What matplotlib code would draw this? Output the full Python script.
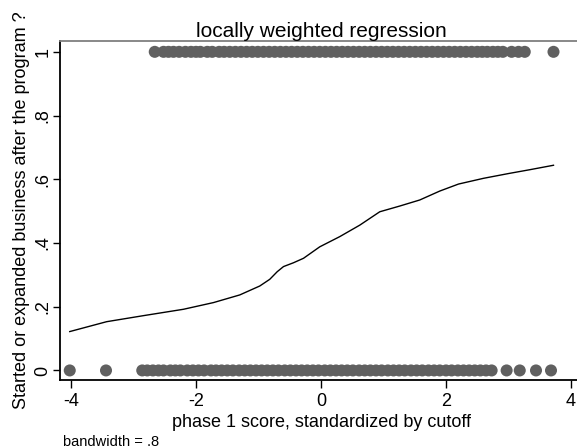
import matplotlib
matplotlib.use('Agg')
import matplotlib.pyplot as plt

plt.rcParams['font.family'] = ['Liberation Sans', 'DejaVu Sans']

# observed outcomes (0 = no, 1 = yes) by standardized score
x_zero = [-4.02, -3.44, -2.86, -2.78, -2.69, -2.60, -2.52, -2.41, -2.33, -2.25,
          -2.14, -2.05, -1.96, -1.87, -1.76, -1.68, -1.59, -1.50, -1.41, -1.31,
          -1.22, -1.13, -1.04, -0.95, -0.86, -0.77, -0.68, -0.58, -0.49, -0.40,
          -0.31, -0.22, -0.13, -0.04, 0.06, 0.15, 0.24, 0.33, 0.42, 0.51,
          0.61, 0.70, 0.79, 0.88, 0.97, 1.07, 1.16, 1.25, 1.34, 1.44,
          1.53, 1.62, 1.72, 1.81, 1.90, 2.00, 2.09, 2.19, 2.28, 2.37,
          2.46, 2.55, 2.64, 2.73, 2.97, 3.18, 3.44, 3.68]
x_one = [-2.66, -2.52, -2.44, -2.36, -2.27, -2.17, -2.08, -2.00, -1.93, -1.82,
         -1.74, -1.63, -1.55, -1.46, -1.37, -1.28, -1.19, -1.10, -1.01, -0.92,
         -0.83, -0.74, -0.65, -0.56, -0.47, -0.38, -0.29, -0.20, -0.11, -0.02,
         0.07, 0.16, 0.25, 0.34, 0.43, 0.52, 0.61, 0.70, 0.79, 0.88,
         0.97, 1.06, 1.15, 1.24, 1.33, 1.42, 1.51, 1.60, 1.69, 1.78,
         1.87, 1.96, 2.05, 2.14, 2.23, 2.32, 2.41, 2.50, 2.58, 2.66,
         2.75, 2.83, 2.91, 3.05, 3.16, 3.26, 3.72]

# lowess fit
fit_x = [-4.02, -3.43, -2.84, -2.20, -1.72, -1.30, -0.98, -0.82, -0.70, -0.60,
         -0.44, -0.28, -0.02, 0.30, 0.62, 0.94, 1.26, 1.58, 1.90, 2.20,
         2.60, 3.00, 3.34, 3.72]
fit_y = [0.122, 0.153, 0.172, 0.192, 0.213, 0.237, 0.265, 0.286, 0.310, 0.326,
         0.338, 0.352, 0.388, 0.420, 0.456, 0.498, 0.516, 0.535, 0.563, 0.585,
         0.603, 0.618, 0.630, 0.644]

xticks = [-4, -2, 0, 2, 4]
yticks = [0, 0.2, 0.4, 0.6, 0.8, 1]
ytick_labels = ['0', '.2', '.4', '.6', '.8', '1']

fig = plt.figure(figsize=(5.77, 4.48), dpi=100)
ax = fig.add_axes([60/577, 1 - 380/448, 522/577, 339/448])

dot = '#606060'
ax.scatter(x_zero, [0] * len(x_zero), s=75, color=dot, edgecolors='none', zorder=2)
ax.scatter(x_one, [1] * len(x_one), s=75, color=dot, edgecolors='none', zorder=2)
ax.plot(fit_x, fit_y, color='black', lw=1.0, zorder=3)

ax.set_xlim(-4.176, 4.176)
ax.set_ylim(-0.030, 1.034)
ax.set_xticks(xticks)
ax.set_xticklabels([str(t) for t in xticks])
ax.set_yticks(yticks)
ax.set_yticklabels(ytick_labels, rotation=90, va='center')
ax.tick_params(axis='both', labelsize=13, length=6, width=1, direction='out')
ax.tick_params(axis='x', pad=3)
ax.tick_params(axis='y', pad=1, length=5)

for side in ['left', 'bottom']:
    ax.spines[side].set_linewidth(1.3)
    ax.spines[side].set_color('black')
ax.spines['top'].set_color('#7f7f7f')
ax.spines['top'].set_linewidth(1.3)
ax.spines['right'].set_visible(False)

ax.set_title('locally weighted regression', fontsize=15, pad=3)
ax.set_xlabel('phase 1 score, standardized by cutoff', fontsize=13, labelpad=3)
ax.set_ylabel('Started or expanded business after the program ?', fontsize=13, labelpad=3)
fig.text(63/577, 1 - 442/448, 'bandwidth = .8', fontsize=10.5, va='center', ha='left')

fig.savefig('out.png', dpi=100, facecolor='white')
